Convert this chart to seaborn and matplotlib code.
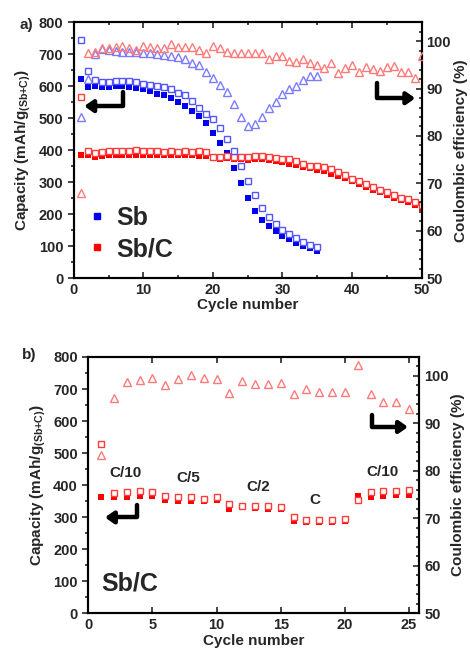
import numpy as np
import pandas as pd
import seaborn as sns
import matplotlib.pyplot as plt
from matplotlib.lines import Line2D
from matplotlib.ticker import MultipleLocator

sns.set_style('ticks')
plt.rcParams['font.family'] = ['Liberation Sans', 'DejaVu Sans']
plt.rcParams['font.weight'] = 'bold'
plt.rcParams['axes.labelweight'] = 'bold'
plt.rcParams['axes.linewidth'] = 1.5
plt.rcParams['axes.edgecolor'] = 'black'
plt.rcParams['mathtext.fontset'] = 'custom'
plt.rcParams['mathtext.bf'] = 'Liberation Sans:bold'
plt.rcParams['mathtext.rm'] = 'Liberation Sans:bold'

# ---- panel a) : long cycling ----
cyc_sb = list(range(1, 36))
sb_dis = [623, 596, 600, 598, 598, 600, 600, 598, 595, 590, 585, 577, 574, 562, 550,
          537, 523, 506, 485, 455, 424, 390, 345, 296, 251, 211, 182, 162, 146, 133,
          122, 110, 101, 93, 86]
sb_cha = [744, 648, 619, 614, 613, 615, 616, 615, 614, 606, 605, 600, 596, 590, 580,
          571, 553, 533, 514, 496, 468, 434, 397, 352, 304, 259, 220, 190, 169, 152,
          137, 126, 112, 104, 98]
sb_ce = [84.0, 92.1, 97.2, 98.3, 98.2, 98.0, 97.8, 97.8, 97.7, 97.6, 97.5, 97.3, 97.1,
         96.9, 96.7, 96.2, 95.4, 95.0, 93.6, 92.2, 90.7, 89.2, 86.8, 83.9, 82.2, 82.5,
         83.9, 85.9, 87.1, 88.9, 89.9, 90.6, 91.9, 92.7, 92.7]

cyc_sbc = list(range(1, 51))
sbc_dis = [386, 384, 380, 383, 385, 386, 386, 386, 386, 385, 385, 384, 385, 384, 384,
           385, 384, 383, 382, 376, 374, 375, 373, 372, 370, 371, 372, 369, 366, 362,
           358, 354, 349, 344, 339, 334, 327, 320, 312, 304, 295, 286, 277, 268, 260,
           252, 245, 238, 230, 218]
sbc_cha = [567, 397, 392, 394, 396, 397, 398, 398, 400, 396, 397, 396, 395, 396, 395,
           396, 395, 396, 394, 380, 378, 381, 380, 378, 380, 381, 383, 380, 377, 373,
           372, 367, 358, 352, 350, 346, 340, 331, 323, 311, 304, 294, 285, 277, 269,
           261, 252, 246, 238, 229]
sbc_ce = [67.9, 97.4, 97.8, 98.6, 98.6, 98.8, 99.0, 98.6, 98.2, 99.0, 98.8, 98.6, 98.6,
          99.3, 98.8, 98.8, 98.8, 98.2, 97.6, 98.9, 98.5, 97.8, 97.5, 97.6, 97.6, 97.6,
          97.6, 96.2, 96.9, 96.9, 95.9, 95.5, 96.2, 95.4, 95.0, 94.3, 95.4, 93.3, 94.3,
          95.0, 93.6, 94.5, 94.1, 93.8, 94.5, 94.7, 93.4, 93.4, 92.2, 96.8]

# ---- panel b) : rate test Sb/C ----
cyc_rate = list(range(1, 26))
rate_dis = [362, 362, 362, 367, 367, 354, 352, 352, 350, 354, 327, 331, 330, 327, 327,
            288, 286, 286, 286, 289, 367, 364, 367, 370, 370]
rate_cha = [528, 377, 378, 382, 380, 367, 362, 362, 357, 362, 340, 336, 336, 336, 332,
            302, 290, 292, 292, 295, 354, 380, 382, 383, 385]
rate_ce = [83.3, 95.3, 98.8, 99.1, 99.6, 98.1, 99.3, 100.2, 99.6, 99.3, 96.4, 99.0, 98.4,
           98.4, 98.6, 96.1, 97.2, 96.7, 96.7, 96.7, 102.3, 96.2, 94.5, 94.5, 93.0]
rate_labels = ['C/10', 'C/5', 'C/2', 'C', 'C/10']

BLUE, BLUE_O, BLUE_T = '#0000ee', '#5555ff', '#7b7bff'
RED, RED_O, RED_T = '#ff0000', '#ff3b3b', '#ff7a7a'


def pts(ax, x, y, color, marker='s', filled=True, ms=5, z=3):
    sns.lineplot(x=x, y=y, ax=ax, linestyle='', marker=marker, markersize=ms,
                 markerfacecolor=color if filled else ('white' if marker == 's' else 'none'),
                 markeredgecolor=color, markeredgewidth=0 if filled else 1.0,
                 zorder=z, legend=False)


def style_axes(ax, ax2, xmaj, xmin=None):
    ax.set_ylim(0, 800)
    ax.yaxis.set_major_locator(MultipleLocator(100))
    ax.yaxis.set_minor_locator(MultipleLocator(50))
    ax.xaxis.set_major_locator(MultipleLocator(xmaj))
    if xmin:
        ax.xaxis.set_minor_locator(MultipleLocator(xmin))
    ax.tick_params(axis='x', which='both', direction='in', top=True, labelsize=10.5, width=1.2)
    ax.tick_params(axis='y', which='both', direction='out', labelsize=10.5, width=1.2)
    ax.tick_params(which='major', length=4)
    ax.tick_params(which='minor', length=2.5)
    ax2.set_ylim(50, 104)
    ax2.yaxis.set_major_locator(MultipleLocator(10))
    ax2.yaxis.set_minor_locator(MultipleLocator(2))
    ax2.tick_params(axis='y', which='both', direction='in', labelsize=10.5, width=1.2)
    ax2.tick_params(which='major', length=4)
    ax2.tick_params(which='minor', length=2.5)
    ax.set_xlabel('Cycle number', fontsize=11, labelpad=1)
    ax.set_ylabel(r'Capacity (mAh/g$_{\mathbf{(Sb{+}C)}}$)', fontsize=11, labelpad=4)
    ax2.set_ylabel('Coulombic efficiency (%)', fontsize=11, labelpad=2)


def l_arrow(ax, start, tip):
    ax.annotate('', xy=tip, xytext=start, xycoords='axes fraction', textcoords='axes fraction',
                arrowprops=dict(arrowstyle='-|>,head_length=0.5,head_width=0.35', lw=3.2,
                                color='black', shrinkA=0, shrinkB=0,
                                connectionstyle='angle,angleA=90,angleB=0,rad=0'))


fig = plt.figure(figsize=(4.7, 6.53), dpi=100)

# panel a
ax = fig.add_axes([0.157, 0.574, 0.740, 0.392])
ax2 = ax.twinx()
pts(ax, cyc_sbc, sbc_dis, RED, z=3)
pts(ax, cyc_sbc, sbc_cha, RED_O, filled=False, z=4)
pts(ax, cyc_sb, sb_dis, BLUE, z=3)
pts(ax, cyc_sb, sb_cha, BLUE_O, filled=False, z=4)
pts(ax2, cyc_sb, sb_ce, BLUE_T, marker='^', filled=False, ms=5.5)
pts(ax2, cyc_sbc, sbc_ce, RED_T, marker='^', filled=False, ms=5.5)
ax.set_xlim(0, 50)
style_axes(ax, ax2, 10, 5)
handles = [Line2D([], [], ls='', marker='s', ms=4.5, mfc=BLUE, mec=BLUE, label='Sb'),
           Line2D([], [], ls='', marker='s', ms=4.5, mfc=RED, mec=RED, label='Sb/C')]
ax.legend(handles=handles, loc='center left', bbox_to_anchor=(0.01, 0.175), frameon=False,
          prop={'size': 18, 'weight': 'bold'}, handlelength=0.6, handletextpad=0.45,
          labelspacing=0.3, borderpad=0)
l_arrow(ax, (0.141, 0.727), (0.030, 0.672))
l_arrow(ax, (0.871, 0.762), (0.982, 0.703))
fig.text(20 / 470, 1 - 25 / 653, 'a)', fontsize=11, fontweight='bold', va='center')

# panel b
bx = fig.add_axes([0.188, 0.0608, 0.704, 0.3925])
bx2 = bx.twinx()
pts(bx, cyc_rate, rate_dis, RED, z=3)
pts(bx, cyc_rate, rate_cha, RED_O, filled=False, z=4)
pts(bx2, cyc_rate, rate_ce, RED_T, marker='^', filled=False, ms=5.5)
bx.set_xlim(0, 25.8)
style_axes(bx, bx2, 5)
for lab, (tx, ty) in zip(rate_labels, [(0.111, 0.547), (0.301, 0.528), (0.513, 0.493),
                                      (0.684, 0.442), (0.890, 0.551)]):
    bx.text(tx, ty, lab, transform=bx.transAxes, ha='center', va='center',
            fontsize=11, fontweight='bold')
bx.text(0.126, 0.118, 'Sb/C', transform=bx.transAxes, ha='center', va='center',
        fontsize=18, fontweight='bold')
l_arrow(bx, (0.147, 0.423), (0.050, 0.374))
l_arrow(bx, (0.857, 0.774), (0.966, 0.727))
fig.text(22 / 470, 1 - 355 / 653, 'b)', fontsize=11, fontweight='bold', va='center')

fig.savefig('out.png', dpi=100, facecolor='white')
